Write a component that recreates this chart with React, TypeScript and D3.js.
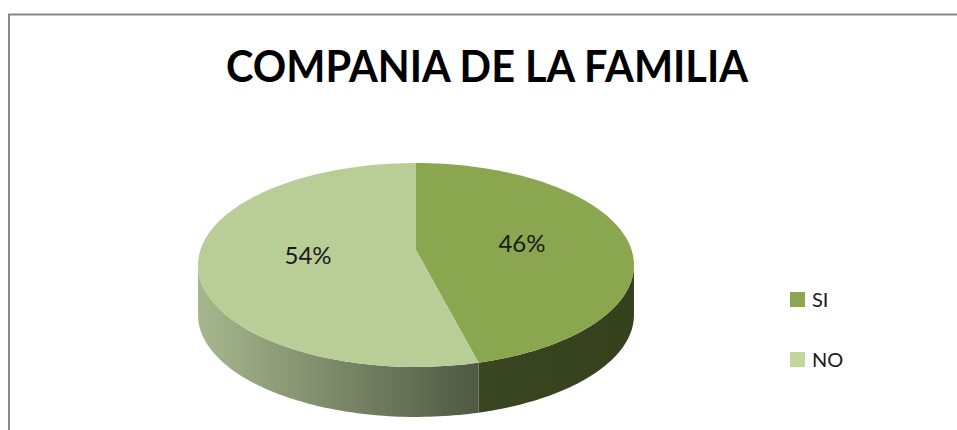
import React, { useEffect, useRef } from "react";
import * as d3 from "d3";

// 3D pie: COMPANIA DE LA FAMILIA

const categories = ["SI", "NO"];
const values = [46, 54];
const topColors = ["#8aa64f", "#b9cd96"];
const legendColors = ["#8aa64f", "#c3d69b"];

const W = 957, H = 430;
// perspective disc: centre (cx, cy), radius R, tilt params ka / kc, wall depth
const cx = 416, cy = 250, R = 215.6, ka = 63.0, kc = -0.147, depth = 50;
const FONT = "Lato, 'Open Sans', sans-serif";

// project point on the disc: angle clockwise from 12 o'clock (back), r in 0..1
function proj(ang: number, r = 1, dy = 0): [number, number] {
  const x = Math.sin(ang) * r, z = -Math.cos(ang) * r;
  const den = 1 + kc * z;
  return [cx + (R * x) / den, (cy + ka * z) / den + dy];
}

function samples(a0: number, a1: number) {
  const n = Math.max(2, Math.ceil((a1 - a0) / 0.02));
  return d3.range(n + 1).map(i => a0 + ((a1 - a0) * i) / n);
}

const line = d3.line<[number, number]>();

// silhouette angles: where the projected rim is widest
const zs = -kc;
const visA0 = Math.acos(-zs), visA1 = 2 * Math.PI - Math.acos(-zs);

function sidePath(a0: number, a1: number) {
  const s = Math.max(a0, visA0), e = Math.min(a1, visA1);
  if (e <= s) return "";
  const top = samples(s, e).map(a => proj(a));
  const bot = samples(s, e).reverse().map(a => proj(a, 1, depth));
  return line([...top, ...bot]) + "Z";
}

function facePath(a0: number, a1: number) {
  const pts = [proj(0, 0), ...samples(a0, a1).map(a => proj(a))];
  return line(pts) + "Z";
}

export default function App() {
  const ref = useRef<SVGSVGElement>(null);

  useEffect(() => {
    const svg = d3.select(ref.current);
    svg.selectAll("*").remove();

    const pie = d3.pie<number>().sort(null).value(d => d);
    const arcs = pie(values);
    const splitX = proj(arcs[0].endAngle)[0];

    const defs = svg.append("defs");
    const gNo = defs.append("linearGradient").attr("id", "sideNo")
      .attr("gradientUnits", "userSpaceOnUse")
      .attr("x1", cx - R).attr("x2", splitX).attr("y1", 0).attr("y2", 0);
    gNo.append("stop").attr("offset", "0%").attr("stop-color", "#a6b78d");
    gNo.append("stop").attr("offset", "100%").attr("stop-color", "#4f5843");
    const gSi = defs.append("linearGradient").attr("id", "sideSi")
      .attr("gradientUnits", "userSpaceOnUse")
      .attr("x1", splitX).attr("x2", cx + R).attr("y1", 0).attr("y2", 0);
    gSi.append("stop").attr("offset", "0%").attr("stop-color", "#3a4521");
    gSi.append("stop").attr("offset", "100%").attr("stop-color", "#35401d");
    const sideFill = ["url(#sideSi)", "url(#sideNo)"];

    // chart frame
    svg.append("rect").attr("x", 9).attr("y", 14.5).attr("width", W + 20).attr("height", H + 20)
      .attr("fill", "#fff").attr("stroke", "#888").attr("stroke-width", 2);

    svg.append("text")
      .attr("x", 487).attr("y", 82)
      .attr("text-anchor", "middle")
      .attr("font-family", FONT).attr("font-weight", "bold").attr("font-size", 44)
      .attr("textLength", 522).attr("lengthAdjust", "spacingAndGlyphs")
      .attr("fill", "#000")
      .text("COMPANIA DE LA FAMILIA");

    // side walls
    svg.selectAll(".side").data(arcs).join("path").attr("class", "side")
      .attr("d", d => sidePath(d.startAngle, d.endAngle))
      .attr("fill", (d, i) => sideFill[i]);

    // top face
    svg.selectAll(".face").data(arcs).join("path").attr("class", "face")
      .attr("d", d => facePath(d.startAngle, d.endAngle))
      .attr("fill", (d, i) => topColors[i]);

    // labels
    const total = d3.sum(values);
    svg.selectAll(".lbl").data(arcs).join("text").attr("class", "lbl")
      .attr("x", d => proj((d.startAngle + d.endAngle) / 2, 0.5)[0])
      .attr("y", d => proj((d.startAngle + d.endAngle) / 2, 0.5)[1] + 8)
      .attr("text-anchor", "middle")
      .attr("font-family", FONT).attr("font-size", 24).attr("fill", "#1a1a1a")
      .text(d => Math.round((d.data / total) * 100) + "%");

    // legend
    const lg = svg.append("g");
    const ly = d3.scaleBand<string>().domain(categories).range([285, 405]);
    lg.selectAll("rect").data(categories).join("rect")
      .attr("x", 790).attr("y", d => (ly(d) as number) + 7)
      .attr("width", 15).attr("height", 15)
      .attr("fill", (d, i) => legendColors[i]);
    lg.selectAll("text").data(categories).join("text")
      .attr("x", 812).attr("y", d => (ly(d) as number) + 22)
      .attr("font-family", FONT).attr("font-size", 20).attr("fill", "#1a1a1a")
      .text(d => d);
  }, []);

  return (
    <svg ref={ref} width={W} height={H}
      style={{ position: "absolute", left: 0, top: 0, background: "#fff" }} />
  );
}
